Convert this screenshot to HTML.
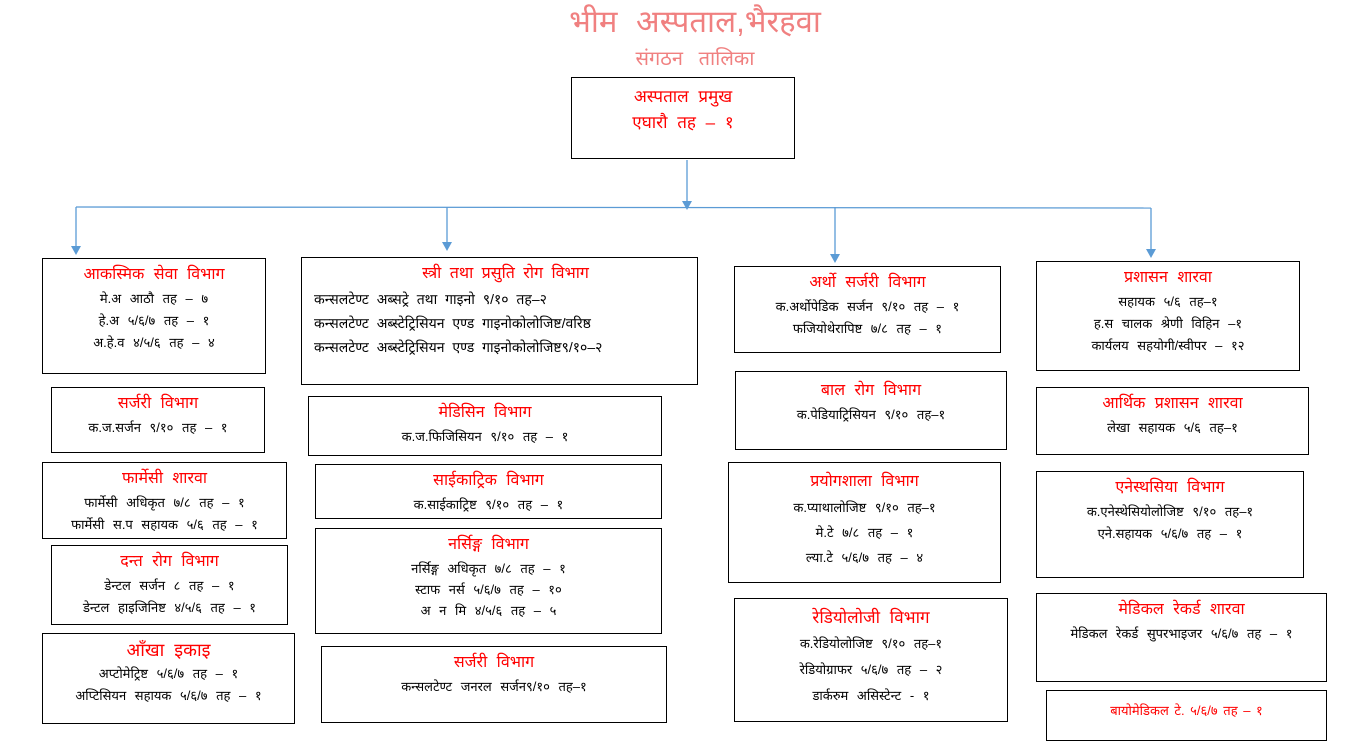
<!DOCTYPE html>
<html><head><meta charset="utf-8"><style>
body{margin:0;width:1358px;height:748px;background:#fff;position:relative;overflow:hidden;font-family:"Liberation Sans","Noto Sans CJK SC",sans-serif;}
.b{position:absolute;border:1px solid #000;box-sizing:border-box;text-align:center;font-size:13px;color:#000;line-height:22px;word-spacing:5px;}
.t{color:#f00;font-size:16px;line-height:26px;margin-top:3px}
.h{position:absolute;left:0;width:1358px;text-align:center;color:#f08080;word-spacing:10px}
</style></head><body>
<div class="h" style="top:2px;left:16px;font-size:31px;line-height:40px">भीम  अस्पताल,भैरहवा</div>
<div class="h" style="top:46px;left:16px;font-size:20px;line-height:26px">संगठन  तालिका</div>
<svg width="1358" height="748" style="position:absolute;left:0;top:0">
<g stroke="#5b9bd5" stroke-width="1.3" fill="none">
<line x1="687" y1="160" x2="687" y2="203"/>
<line x1="76" y1="207" x2="1151" y2="208"/>
<line x1="76" y1="207" x2="76" y2="248"/>
<line x1="447" y1="207" x2="447" y2="244"/>
<line x1="835" y1="207" x2="835" y2="256"/>
<line x1="1151" y1="208" x2="1151" y2="251"/>
</g>
<g fill="#5b9bd5">
<polygon points="682,201 692,201 687,210"/>
<polygon points="71,246 81,246 76,255"/>
<polygon points="442,242 452,242 447,251"/>
<polygon points="830,254 840,254 835,263"/>
<polygon points="1146,249 1156,249 1151,258"/>
</g></svg>
<div class="b" style="left:571px;top:77px;width:224px;height:82px;font-size:17px;line-height:26px;color:#f00;padding-top:6px">अस्पताल प्रमुख<br>एघारौ तह – १</div>

<div class="b" style="left:42px;top:258px;width:224px;height:116px"><div class="t">आकस्मिक सेवा विभाग</div>मे.अ आठौ तह – ७<br>हे.अ ५/६/७ तह – १<br>अ.हे.व ४/५/६ तह – ४</div>
<div class="b" style="left:51px;top:387px;width:214px;height:66px"><div class="t">सर्जरी विभाग</div>क.ज.सर्जन ९/१० तह – १</div>
<div class="b" style="left:42px;top:462px;width:245px;height:77px"><div class="t">फार्मेसी शारवा</div>फार्मेसी अधिकृत ७/८ तह – १<br>फार्मेसी स.प सहायक ५/६ तह – १</div>
<div class="b" style="left:51px;top:545px;width:237px;height:80px"><div class="t">दन्त रोग विभाग</div>डेन्टल सर्जन ८ तह – १<br>डेन्टल हाइजिनिष्ट ४/५/६ तह – १</div>
<div class="b" style="left:42px;top:633px;width:253px;height:91px"><div class="t" style="font-size:18px">आँखा इकाइ</div>अप्टोमेट्रिष्ट ५/६/७ तह – १<br>अप्टिसियन सहायक ५/६/७ तह – १</div>

<div class="b" style="left:301px;top:257px;width:397px;height:128px;text-align:left;padding-left:12px;font-size:14px;line-height:24px;word-spacing:4px"><div class="t" style="text-align:center">स्त्री तथा प्रसुति रोग विभाग</div>कन्सलटेण्ट अब्सट्रे तथा गाइनो ९/१० तह–२<br>कन्सलटेण्ट अब्स्टेट्रिसियन एण्ड गाइनोकोलोजिष्ट/वरिष्ठ<br>कन्सलटेण्ट अब्स्टेट्रिसियन एण्ड गाइनोकोलोजिष्ट९/१०–२</div>
<div class="b" style="left:308px;top:396px;width:354px;height:60px"><div class="t">मेडिसिन विभाग</div>क.ज.फिजिसियन ९/१० तह – १</div>
<div class="b" style="left:315px;top:464px;width:347px;height:55px"><div class="t">साईकाट्रिक विभाग</div>क.साईकाट्रिष्ट ९/१० तह – १</div>
<div class="b" style="left:315px;top:528px;width:347px;height:106px;line-height:21px"><div class="t">नर्सिङ्ग विभाग</div>नर्सिङ्ग अधिकृत ७/८ तह – १<br>स्टाफ नर्स ५/६/७ तह – १०<br>अ न मि ४/५/६ तह – ५</div>
<div class="b" style="left:321px;top:646px;width:346px;height:77px"><div class="t">सर्जरी विभाग</div>कन्सलटेण्ट जनरल सर्जन९/१० तह–१</div>

<div class="b" style="left:734px;top:266px;width:267px;height:87px"><div class="t">अर्थो सर्जरी विभाग</div>क.अर्थोपेडिक सर्जन ९/१० तह – १<br>फजियोथेरापिष्ट ७/८ तह – १</div>
<div class="b" style="left:735px;top:371px;width:272px;height:79px"><div class="t" style="margin-top:6px">बाल रोग विभाग</div>क.पेडियाट्रिसियन ९/१० तह–१</div>
<div class="b" style="left:728px;top:462px;width:273px;height:121px;line-height:25px"><div class="t" style="margin-top:6px">प्रयोगशाला विभाग</div>क.प्याथालोजिष्ट ९/१० तह–१<br>मे.टे ७/८ तह – १<br>ल्या.टे ५/६/७ तह – ४</div>
<div class="b" style="left:734px;top:598px;width:274px;height:124px;line-height:26px"><div class="t" style="margin-top:6px;font-size:17px">रेडियोलोजी विभाग</div>क.रेडियोलोजिष्ट ९/१० तह–१<br>रेडियोग्राफर ५/६/७ तह – २<br>डार्करुम असिस्टेन्ट - १</div>

<div class="b" style="left:1036px;top:261px;width:264px;height:110px"><div class="t">प्रशासन शारवा</div>सहायक ५/६ तह–१<br>ह.स चालक श्रेणी विहिन –१<br>कार्यलय सहयोगी/स्वीपर – १२</div>
<div class="b" style="left:1036px;top:387px;width:273px;height:68px"><div class="t">आर्थिक प्रशासन शारवा</div>लेखा सहायक ५/६ तह–१</div>
<div class="b" style="left:1036px;top:471px;width:268px;height:107px"><div class="t">एनेस्थसिया विभाग</div>क.एनेस्थेसियोलोजिष्ट ९/१० तह–१<br>एने.सहायक ५/६/७ तह – १</div>
<div class="b" style="left:1036px;top:593px;width:291px;height:89px"><div class="t">मेडिकल रेकर्ड शारवा</div>मेडिकल रेकर्ड सुपरभाइजर ५/६/७ तह – १</div>
<div class="b" style="left:1046px;top:690px;width:281px;height:51px;color:#f00;line-height:40px;word-spacing:2px">बायोमेडिकल टे. ५/६/७ तह – १</div>
</body></html>
